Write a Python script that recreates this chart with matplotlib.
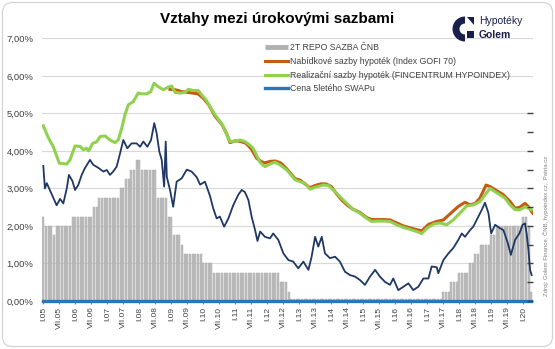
import matplotlib.pyplot as plt
import numpy as np
from matplotlib.lines import Line2D
from matplotlib.patches import FancyBboxPatch, Wedge, Polygon, Rectangle

plt.rcParams['font.family'] = ['Liberation Sans', 'DejaVu Sans']

# 2T repo sazba CNB - monthly, Jan 2005 .. May 2020, stored as (level, number of months)
repo_levels = [2.25, 2.0, 1.75, 2.0, 2.25, 2.5, 2.75, 3.0, 3.25, 3.5, 3.75, 3.5, 2.75, 2.25,
               1.75, 1.5, 1.25, 1.0, 0.75, 0.5, 0.25, 0.05, 0.25, 0.5, 0.75, 1.0, 1.25, 1.5,
               1.75, 2.0, 2.25, 2.0, 0.25]
repo_counts = [1, 3, 1, 6, 8, 2, 8, 2, 2, 2, 2, 6, 4, 2,
               3, 1, 7, 4, 25, 3, 1, 57, 3, 3, 4, 2, 2, 4,
               2, 10, 2, 1, 1]

# Realizacni sazby hypotek (FINCENTRUM HYPOINDEX), month index from I.05
hypo_m = [0, 1.9, 3.75, 6, 8.8, 10, 11.9, 13.8, 15, 16.2, 17, 18.5, 20, 21.3, 23.1, 25, 26.9, 28.1,
          29.4, 30.6, 31.9, 33.7, 35.6, 37.1, 38.8, 40.3, 41.5, 43.1, 45, 46.9, 48.1, 49.4, 51.3,
          53.1, 54.4, 56.2, 58.1, 59.4, 61, 62.5, 64.4, 66.3, 67.5, 68.8, 70, 71.9, 73.8, 75.6,
          77.3, 78.7, 80, 81.3, 83.1, 85, 86.9, 88.7, 91.3, 94.4, 96.3, 98.1, 100, 101.9, 105,
          106.9, 108.7, 111.2, 113.8, 116.2, 118.7, 121.3, 123.1, 125, 127.5, 130, 132.5, 135,
          137.5, 140, 141.9, 143.8, 146.3, 148.7, 151.2, 153.7, 156.2, 158.7, 161.2, 163.7,
          165.6, 167.5, 169.4, 171.2, 173.1, 175, 176.9, 178.7, 180.6, 182.2, 183]
hypo_v = [4.67, 4.35, 4.11, 3.67, 3.65, 3.76, 4.13, 4.12, 4.03, 4.07, 4.0, 4.2, 4.24, 4.38, 4.4, 4.29,
          4.22, 4.29, 4.6, 4.96, 5.23, 5.31, 5.54, 5.52, 5.52, 5.58, 5.8, 5.71, 5.63, 5.7, 5.73,
          5.56, 5.54, 5.56, 5.64, 5.61, 5.61, 5.49, 5.36, 5.18, 4.96, 4.78, 4.65, 4.43, 4.25,
          4.26, 4.29, 4.25, 4.16, 4.07, 3.87, 3.69, 3.58, 3.65, 3.7, 3.63, 3.49, 3.23, 3.18,
          3.14, 2.98, 3.03, 3.09, 3.08, 2.96, 2.78, 2.6, 2.44, 2.34, 2.2, 2.12, 2.13, 2.13,
          2.12, 2.03, 1.96, 1.91, 1.85, 1.8, 1.94, 2.05, 2.08, 2.03, 2.16, 2.34, 2.53, 2.56,
          2.65, 2.83, 3.0, 2.91, 2.83, 2.74, 2.56, 2.43, 2.43, 2.51, 2.47, 2.43]

# Nabidkove sazby hypotek (Index GOFI 70)
gofi_m = [47.5, 49.4, 52, 55, 58, 60, 62, 64.4, 67, 68.8, 70, 72, 74, 76, 78, 80, 81.9, 83, 85, 87,
          89, 91.3, 94.4, 96.3, 98.1, 100, 102, 104, 106, 108, 110, 112, 114, 116, 118.7, 121.3,
          123.1, 125, 127.5, 130, 132.5, 135, 137.5, 140, 141.9, 144.4, 147.5, 150, 153.1, 155.6,
          158.1, 160, 161.9, 163.7, 166, 167.5, 170, 172.5, 175, 176.9, 178.7, 180.6, 181.9, 183.5]
gofi_v = [5.64, 5.63, 5.58, 5.55, 5.52, 5.4, 5.23, 4.92, 4.7, 4.45, 4.22, 4.27, 4.25, 4.2, 4.05, 3.8,
          3.71, 3.68, 3.72, 3.73, 3.68, 3.52, 3.26, 3.22, 3.12, 3.02, 3.08, 3.12, 3.12, 3.05, 2.85,
          2.68, 2.55, 2.45, 2.36, 2.22, 2.17, 2.17, 2.17, 2.16, 2.08, 2.0, 1.95, 1.9, 1.87, 2.04,
          2.12, 2.16, 2.36, 2.52, 2.63, 2.56, 2.6, 2.74, 3.09, 3.05, 2.94, 2.83, 2.65, 2.47, 2.5,
          2.6, 2.51, 2.34]

# 5lety swap
swap_m = [0, 0.6, 1.3, 2.5, 3.75, 5, 6.3, 7.5, 8.8, 9.6, 10.9, 11.9, 13.1, 14.4, 15.6, 17.5, 18.7,
          20.6, 22.5, 23.8, 25, 26.2, 27.5, 28.8, 30, 31.5, 33.1, 35, 36.3, 37.5, 39, 40.4, 41.6,
          42.5, 43.5, 44.4, 45.3, 45.9, 46.3, 47.5, 48.7, 50, 51.9, 53.8, 55.6, 57.5, 58.8, 60.6,
          62.5, 63.7, 65, 66.2, 67.8, 69.4, 71.2, 73.1, 74.4, 75.6, 76.9, 78.1, 79.4, 80.3, 81.3,
          83.1, 85, 86.2, 88.1, 90, 91.9, 93.7, 95.6, 97.5, 99.4, 100.6, 101.9, 103.1, 104.4,
          105.6, 107.5, 109.4, 111.2, 113.1, 115, 116.9, 118.7, 120.6, 122.5, 124.4, 126.2, 128.1,
          130, 131.2, 133.1, 135, 136.9, 138.7, 140.6, 142.5, 144.4, 145.6, 147.5, 148.1, 150,
          151.9, 153.7, 155.6, 156.9, 158.1, 160, 161.2, 163.1, 164.4, 165.6, 166.9, 167.9, 169.4,
          171.2, 172.5, 174, 175.3, 176.9, 178.5, 179.7, 180.6, 181.2, 181.9, 182.5, 183.1]
swap_v = [3.6, 3.0, 3.14, 2.95, 2.75, 2.55, 2.72, 2.6, 3.0, 3.36, 3.2, 2.96, 3.09, 3.36, 3.54, 3.76,
          3.63, 3.55, 3.45, 3.49, 3.36, 3.45, 3.58, 3.94, 4.29, 4.07, 4.2, 4.2, 4.11, 4.25, 4.11,
          4.29, 4.74, 4.47, 3.98, 3.76, 3.05, 4.25, 3.31, 2.96, 2.51, 3.18, 3.27, 3.5, 3.45, 3.3,
          3.1, 3.18, 2.8, 2.47, 2.2, 2.25, 1.98, 2.2, 2.55, 2.83, 2.96, 2.9, 2.69, 2.25, 1.89, 1.6,
          1.85, 1.71, 1.67, 1.8, 1.63, 1.27, 1.09, 1.05, 0.87, 1.05, 0.83, 1.18, 1.71, 1.45, 1.71,
          1.27, 1.14, 1.18, 1.05, 0.78, 0.69, 0.65, 0.56, 0.43, 0.65, 0.83, 0.65, 0.51, 0.43, 0.6,
          0.29, 0.38, 0.47, 0.29, 0.38, 0.6, 0.6, 0.92, 0.9, 0.74, 1.09, 1.27, 1.41, 1.63, 1.8,
          1.71, 1.89, 1.98, 2.25, 2.43, 2.62, 2.34, 1.8, 2.03, 1.94, 1.89, 1.58, 1.23, 1.63, 1.8,
          2.03, 2.07, 1.8, 1.36, 0.83, 0.69]

roman = ['I', 'VII']
tick_labels = ['%s.%02d' % (roman[i % 2], 5 + i // 2) for i in range(31)]

repo = np.repeat(repo_levels, repo_counts)
months = np.arange(len(repo))
swap_legend_v = np.zeros(len(repo))

fig = plt.figure(figsize=(5.55, 3.49), dpi=100)
ax = fig.add_axes([41.7 / 555, 1 - 301 / 349, (533 - 41.7) / 555, (301 - 38.3) / 349])

ax.bar(months, repo, width=0.8, color='#c0c0c0', edgecolor='#a3a3a3', linewidth=0.3, zorder=2)
l_gofi, = ax.plot(gofi_m, gofi_v, color='#c55a11', lw=2.2, zorder=3)
l_hypo, = ax.plot(hypo_m, hypo_v, color='#92d050', lw=2.2, zorder=4)
l_swap, = ax.plot(months, swap_legend_v, color='#2e75b6', lw=2.4, zorder=6, clip_on=False)
ax.plot(swap_m, swap_v, color='#1f3864', lw=1.3, zorder=5)

ax.set_xlim(-0.6, 183.6)
ax.set_ylim(0, 7)
ax.set_yticks(np.arange(0, 8))
ax.set_yticklabels(['%d,00%%' % v for v in range(8)], fontsize=6.8, color='#404040')
ax.set_xticks(np.arange(0, 181, 6))
ax.set_xticklabels(tick_labels, rotation=90, fontsize=6, color='#404040')
ax.tick_params(axis='y', length=0, pad=6)
ax.tick_params(axis='x', length=2, color='#808080', pad=2)
ax.grid(axis='y', color='#d9d9d9', lw=0.8, zorder=0)
ax.set_axisbelow(True)
for s in ax.spines.values():
    s.set_visible(False)

# unlabeled tick marks on the right
ax2 = ax.twinx()
ax2.set_ylim(0, 7)
ax2.set_yticks(np.arange(0, 5.01, 0.5))
ax2.set_yticklabels([])
ax2.tick_params(axis='y', direction='in', length=4, width=1, color='#404040')
for s in ax2.spines.values():
    s.set_visible(False)

# thin gray bar for the repo entry, like in the Excel legend
bar_handle = Line2D([], [], color='#b0b0b0', lw=3.5, solid_capstyle='butt')
ax.legend([bar_handle, l_gofi, l_hypo, l_swap],
          ['2T REPO SAZBA ČNB', 'Nabídkové sazby hypoték (Index GOFI 70)',
           'Realizační sazby hypoték (FINCENTRUM HYPOINDEX)', 'Cena 5letého SWAPu'],
          loc='upper left', bbox_to_anchor=(265 / 555, 1 - 43 / 349), bbox_transform=fig.transFigure,
          frameon=False, fontsize=6.3, handlelength=2.6, handletextpad=0.3, labelspacing=0.55,
          borderaxespad=0, borderpad=0, labelcolor='#404040')

# overlay in pixel coordinates: border, title, logo, source
ov = fig.add_axes([0, 0, 1, 1], zorder=-1)
ov.set_xlim(0, 555)
ov.set_ylim(349, 0)
ov.axis('off')
ov.add_patch(FancyBboxPatch((2.5, 2.5), 550, 344, boxstyle='round,pad=0,rounding_size=10',
                            fc='white', ec='#d0d0d0', lw=0.8))

ov2 = fig.add_axes([0, 0, 1, 1], zorder=5)
ov2.set_xlim(0, 555)
ov2.set_ylim(349, 0)
ov2.axis('off')
ov2.patch.set_alpha(0)
ov2.text(277, 18.5, 'Vztahy mezi úrokovými sazbami', fontsize=11, weight='bold',
         ha='center', va='center', color='black')
navy = '#1b1f4b'
ov2.add_patch(Wedge((465, 29), 12.5, 90, 270, width=7, fc=navy, ec='none'))
ov2.add_patch(Polygon([(466.5, 17), (473.5, 17), (473.5, 25)], closed=True, fc=navy, ec='none'))
ov2.add_patch(Rectangle((466.5, 31), 7, 7, fc=navy, ec='none'))
ov2.text(479, 21.5, 'Hypotéky', fontsize=7.5, color=navy, ha='left', va='center')
ov2.text(479, 35.5, 'Golem', fontsize=7.5, weight='bold', color=navy, ha='left', va='center')
ov2.text(546, 226, 'Zdroj: Golem Finance, ČNB, hypoindex.cz,  Patria.cz', fontsize=4.3,
         rotation=90, color='#808080', ha='center', va='center')

fig.savefig('out.png', dpi=100)
